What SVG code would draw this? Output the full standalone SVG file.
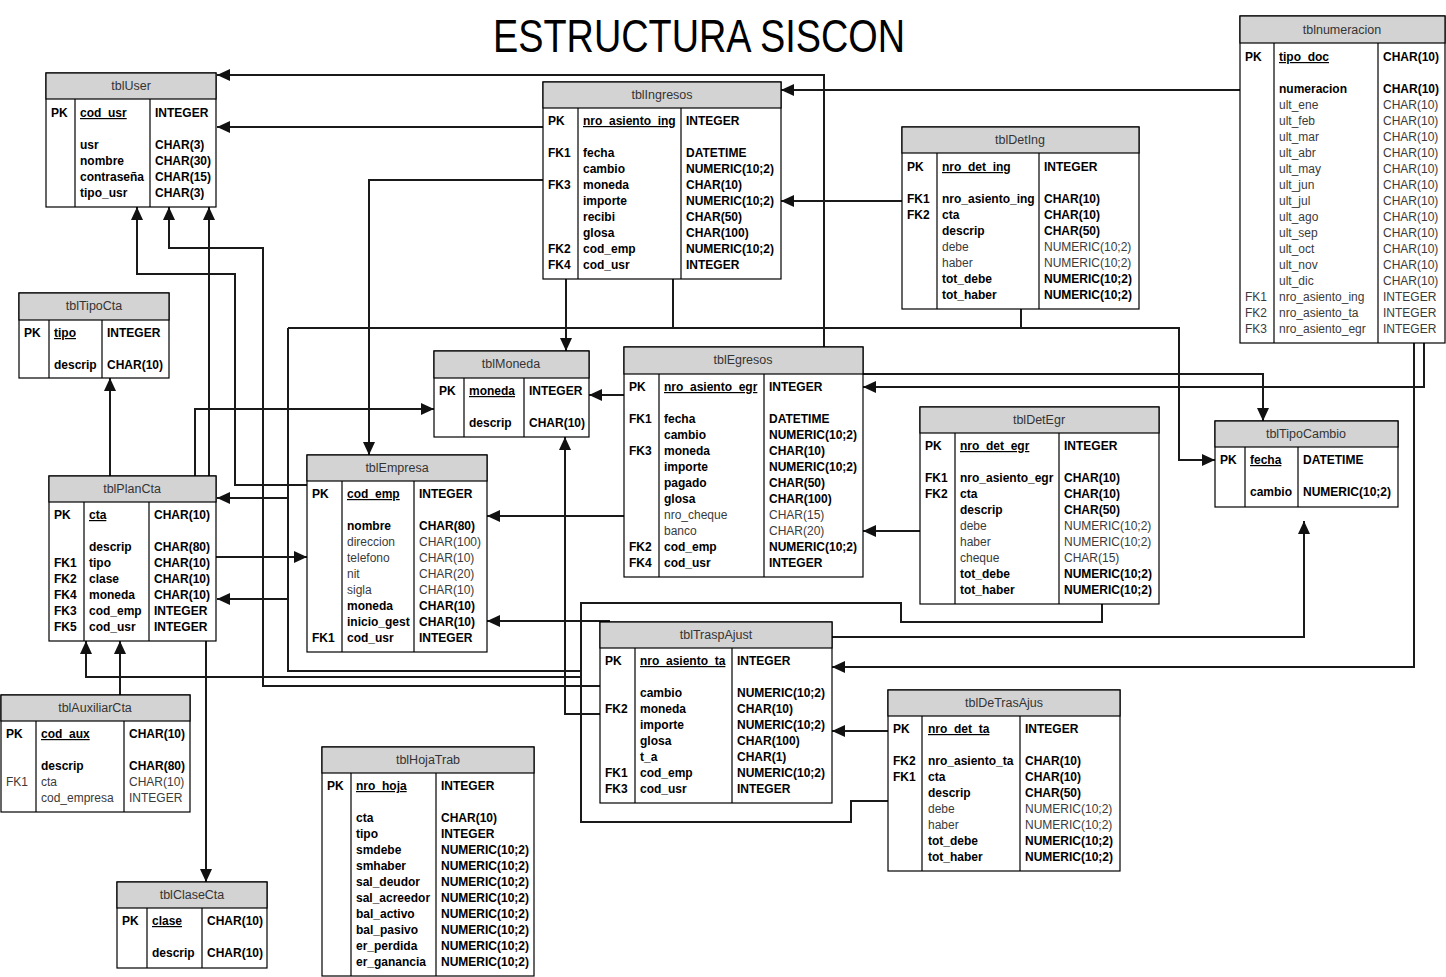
<svg xmlns="http://www.w3.org/2000/svg" width="1446" height="977" viewBox="0 0 1446 977">
<style>
.bg{fill:#fff}
.bx{fill:#fff;stroke:#000;stroke-width:1.2}
.hd{fill:#d3d3d3;stroke:#000;stroke-width:1.2}
.dv{stroke:#000;stroke-width:1.2}
.h{font-family:"Liberation Sans",Arial,sans-serif;font-size:12.5px;fill:#333;text-anchor:middle}
.b{font-family:"Liberation Sans",Arial,sans-serif;font-size:12px;font-weight:bold;fill:#000}
.r{font-family:"Liberation Sans",Arial,sans-serif;font-size:12px;fill:#3a3a3a}
.u{text-decoration:underline}
.c{fill:none;stroke:#1a1a1a;stroke-width:2}
.a{marker-end:url(#ah)}
.ttl{font-family:"Liberation Sans",Arial,sans-serif;font-size:46px;fill:#000;text-anchor:middle}
</style>
<defs>
<marker id="ah" viewBox="0 0 13 12" refX="13" refY="6" markerWidth="13" markerHeight="12" markerUnits="userSpaceOnUse" orient="auto"><path d="M0,0 L13,6 L0,12 z" fill="#111"/></marker>
</defs>
<rect class="bg" x="0" y="0" width="1446" height="977"/>
<text class="ttl" x="699" y="52" textLength="412" lengthAdjust="spacingAndGlyphs">ESTRUCTURA SISCON</text>

<g id="connectors">
<path class="c a" d="M824,347 V75 H217"/>
<path class="c a" d="M543,127 H217"/>
<path class="c a" d="M1240,90 H781"/>
<path class="c a" d="M902,201 H781"/>
<path class="c a" d="M543,180 H369 V455"/>
<path class="c a" d="M566,279 V351"/>
<path class="c" d="M673,279 V328"/>
<path class="c" d="M1021,309 V328"/>
<path class="c a" d="M288,328 H1179 V460 H1215"/>
<path class="c" d="M288,328 V671 H581"/>
<path class="c a" d="M288,498 H217"/>
<path class="c a" d="M288,599 H217"/>
<path class="c" d="M1102,604 V622 H901 V603 H581 V822 H851 V801 H888"/>
<path class="c a" d="M581,677 H86 V641"/>
<path class="c a" d="M120,695 V641"/>
<path class="c a" d="M206,641 V882"/>
<path class="c a" d="M110,476 V378"/>
<path class="c a" d="M209,476 V207"/>
<path class="c a" d="M195,476 V409 H434"/>
<path class="c a" d="M307,485 H235 V274 H137 V207"/>
<path class="c a" d="M600,686 H263 V248 H169 V207"/>
<path class="c a" d="M216,557 H307"/>
<path class="c a" d="M624,516 H487"/>
<path class="c a" d="M624,395 H589"/>
<path class="c a" d="M600,714 H565 V437"/>
<path class="c a" d="M610,621 H487"/>
<path class="c a" d="M863,374 H1263 V421"/>
<path class="c a" d="M1424,343 V387 H863"/>
<path class="c a" d="M1414,343 V667 H832"/>
<path class="c a" d="M920,531 H863"/>
<path class="c a" d="M832,637 H1304 V521"/>
<path class="c a" d="M888,731 H832"/>
</g>

<g id="tblUser">
<rect class="bx" x="46" y="73" width="170" height="134"/>
<rect class="hd" x="46" y="73" width="170" height="26"/>
<line class="dv" x1="75" y1="99" x2="75" y2="207"/><line class="dv" x1="150" y1="99" x2="150" y2="207"/>
<text class="h" x="131" y="90">tblUser</text>
<text class="b" x="51" y="117">PK</text><text class="b u" x="80" y="117">cod_usr</text><text class="b" x="155" y="117">INTEGER</text>
<text class="b" x="80" y="149">usr</text><text class="b" x="155" y="149">CHAR(3)</text>
<text class="b" x="80" y="165">nombre</text><text class="b" x="155" y="165">CHAR(30)</text>
<text class="b" x="80" y="181">contraseña</text><text class="b" x="155" y="181">CHAR(15)</text>
<text class="b" x="80" y="197">tipo_usr</text><text class="b" x="155" y="197">CHAR(3)</text>
</g>

<g id="tblTipoCta">
<rect class="bx" x="19" y="293" width="150" height="85"/>
<rect class="hd" x="19" y="293" width="150" height="27"/>
<line class="dv" x1="49" y1="320" x2="49" y2="378"/><line class="dv" x1="102" y1="320" x2="102" y2="378"/>
<text class="h" x="94" y="310">tblTipoCta</text>
<text class="b" x="24" y="337">PK</text><text class="b u" x="54" y="337">tipo</text><text class="b" x="107" y="337">INTEGER</text>
<text class="b" x="54" y="369">descrip</text><text class="b" x="107" y="369">CHAR(10)</text>
</g>

<g id="tblIngresos">
<rect class="bx" x="543" y="82" width="238" height="197"/>
<rect class="hd" x="543" y="82" width="238" height="26"/>
<line class="dv" x1="578" y1="108" x2="578" y2="279"/><line class="dv" x1="681" y1="108" x2="681" y2="279"/>
<text class="h" x="662" y="99">tblIngresos</text>
<text class="b" x="548" y="125">PK</text><text class="b u" x="583" y="125">nro_asiento_ing</text><text class="b" x="686" y="125">INTEGER</text>
<text class="b" x="548" y="157">FK1</text><text class="b" x="583" y="157">fecha</text><text class="b" x="686" y="157">DATETIME</text>
<text class="b" x="583" y="173">cambio</text><text class="b" x="686" y="173">NUMERIC(10;2)</text>
<text class="b" x="548" y="189">FK3</text><text class="b" x="583" y="189">moneda</text><text class="b" x="686" y="189">CHAR(10)</text>
<text class="b" x="583" y="205">importe</text><text class="b" x="686" y="205">NUMERIC(10;2)</text>
<text class="b" x="583" y="221">recibi</text><text class="b" x="686" y="221">CHAR(50)</text>
<text class="b" x="583" y="237">glosa</text><text class="b" x="686" y="237">CHAR(100)</text>
<text class="b" x="548" y="253">FK2</text><text class="b" x="583" y="253">cod_emp</text><text class="b" x="686" y="253">NUMERIC(10;2)</text>
<text class="b" x="548" y="269">FK4</text><text class="b" x="583" y="269">cod_usr</text><text class="b" x="686" y="269">INTEGER</text>
</g>

<g id="tblDetIng">
<rect class="bx" x="902" y="127" width="237" height="182"/>
<rect class="hd" x="902" y="127" width="237" height="26"/>
<line class="dv" x1="937" y1="153" x2="937" y2="309"/><line class="dv" x1="1039" y1="153" x2="1039" y2="309"/>
<text class="h" x="1020" y="144">tblDetIng</text>
<text class="b" x="907" y="171">PK</text><text class="b u" x="942" y="171">nro_det_ing</text><text class="b" x="1044" y="171">INTEGER</text>
<text class="b" x="907" y="203">FK1</text><text class="b" x="942" y="203">nro_asiento_ing</text><text class="b" x="1044" y="203">CHAR(10)</text>
<text class="b" x="907" y="219">FK2</text><text class="b" x="942" y="219">cta</text><text class="b" x="1044" y="219">CHAR(10)</text>
<text class="b" x="942" y="235">descrip</text><text class="b" x="1044" y="235">CHAR(50)</text>
<text class="r" x="942" y="251">debe</text><text class="r" x="1044" y="251">NUMERIC(10;2)</text>
<text class="r" x="942" y="267">haber</text><text class="r" x="1044" y="267">NUMERIC(10;2)</text>
<text class="b" x="942" y="283">tot_debe</text><text class="b" x="1044" y="283">NUMERIC(10;2)</text>
<text class="b" x="942" y="299">tot_haber</text><text class="b" x="1044" y="299">NUMERIC(10;2)</text>
</g>

<g id="tblnumeracion">
<rect class="bx" x="1240" y="16" width="205" height="327"/>
<rect class="hd" x="1240" y="16" width="205" height="27"/>
<line class="dv" x1="1274" y1="43" x2="1274" y2="343"/><line class="dv" x1="1378" y1="43" x2="1378" y2="343"/>
<text class="h" x="1342" y="34">tblnumeracion</text>
<text class="b" x="1245" y="61">PK</text><text class="b u" x="1279" y="61">tipo_doc</text><text class="b" x="1383" y="61">CHAR(10)</text>
<text class="b" x="1279" y="93">numeracion</text><text class="b" x="1383" y="93">CHAR(10)</text>
<text class="r" x="1279" y="109">ult_ene</text><text class="r" x="1383" y="109">CHAR(10)</text>
<text class="r" x="1279" y="125">ult_feb</text><text class="r" x="1383" y="125">CHAR(10)</text>
<text class="r" x="1279" y="141">ult_mar</text><text class="r" x="1383" y="141">CHAR(10)</text>
<text class="r" x="1279" y="157">ult_abr</text><text class="r" x="1383" y="157">CHAR(10)</text>
<text class="r" x="1279" y="173">ult_may</text><text class="r" x="1383" y="173">CHAR(10)</text>
<text class="r" x="1279" y="189">ult_jun</text><text class="r" x="1383" y="189">CHAR(10)</text>
<text class="r" x="1279" y="205">ult_jul</text><text class="r" x="1383" y="205">CHAR(10)</text>
<text class="r" x="1279" y="221">ult_ago</text><text class="r" x="1383" y="221">CHAR(10)</text>
<text class="r" x="1279" y="237">ult_sep</text><text class="r" x="1383" y="237">CHAR(10)</text>
<text class="r" x="1279" y="253">ult_oct</text><text class="r" x="1383" y="253">CHAR(10)</text>
<text class="r" x="1279" y="269">ult_nov</text><text class="r" x="1383" y="269">CHAR(10)</text>
<text class="r" x="1279" y="285">ult_dic</text><text class="r" x="1383" y="285">CHAR(10)</text>
<text class="r" x="1245" y="301">FK1</text><text class="r" x="1279" y="301">nro_asiento_ing</text><text class="r" x="1383" y="301">INTEGER</text>
<text class="r" x="1245" y="317">FK2</text><text class="r" x="1279" y="317">nro_asiento_ta</text><text class="r" x="1383" y="317">INTEGER</text>
<text class="r" x="1245" y="333">FK3</text><text class="r" x="1279" y="333">nro_asiento_egr</text><text class="r" x="1383" y="333">INTEGER</text>
</g>

<g id="tblMoneda">
<rect class="bx" x="434" y="351" width="155" height="86"/>
<rect class="hd" x="434" y="351" width="155" height="27"/>
<line class="dv" x1="464" y1="378" x2="464" y2="437"/><line class="dv" x1="524" y1="378" x2="524" y2="437"/>
<text class="h" x="511" y="368">tblMoneda</text>
<text class="b" x="439" y="395">PK</text><text class="b u" x="469" y="395">moneda</text><text class="b" x="529" y="395">INTEGER</text>
<text class="b" x="469" y="427">descrip</text><text class="b" x="529" y="427">CHAR(10)</text>
</g>

<g id="tblEgresos">
<rect class="bx" x="624" y="347" width="239" height="230"/>
<rect class="hd" x="624" y="347" width="239" height="27"/>
<line class="dv" x1="659" y1="374" x2="659" y2="577"/><line class="dv" x1="764" y1="374" x2="764" y2="577"/>
<text class="h" x="743" y="364">tblEgresos</text>
<text class="b" x="629" y="391">PK</text><text class="b u" x="664" y="391">nro_asiento_egr</text><text class="b" x="769" y="391">INTEGER</text>
<text class="b" x="629" y="423">FK1</text><text class="b" x="664" y="423">fecha</text><text class="b" x="769" y="423">DATETIME</text>
<text class="b" x="664" y="439">cambio</text><text class="b" x="769" y="439">NUMERIC(10;2)</text>
<text class="b" x="629" y="455">FK3</text><text class="b" x="664" y="455">moneda</text><text class="b" x="769" y="455">CHAR(10)</text>
<text class="b" x="664" y="471">importe</text><text class="b" x="769" y="471">NUMERIC(10;2)</text>
<text class="b" x="664" y="487">pagado</text><text class="b" x="769" y="487">CHAR(50)</text>
<text class="b" x="664" y="503">glosa</text><text class="b" x="769" y="503">CHAR(100)</text>
<text class="r" x="664" y="519">nro_cheque</text><text class="r" x="769" y="519">CHAR(15)</text>
<text class="r" x="664" y="535">banco</text><text class="r" x="769" y="535">CHAR(20)</text>
<text class="b" x="629" y="551">FK2</text><text class="b" x="664" y="551">cod_emp</text><text class="b" x="769" y="551">NUMERIC(10;2)</text>
<text class="b" x="629" y="567">FK4</text><text class="b" x="664" y="567">cod_usr</text><text class="b" x="769" y="567">INTEGER</text>
</g>

<g id="tblDetEgr">
<rect class="bx" x="920" y="407" width="239" height="197"/>
<rect class="hd" x="920" y="407" width="239" height="26"/>
<line class="dv" x1="955" y1="433" x2="955" y2="604"/><line class="dv" x1="1059" y1="433" x2="1059" y2="604"/>
<text class="h" x="1039" y="424">tblDetEgr</text>
<text class="b" x="925" y="450">PK</text><text class="b u" x="960" y="450">nro_det_egr</text><text class="b" x="1064" y="450">INTEGER</text>
<text class="b" x="925" y="482">FK1</text><text class="b" x="960" y="482">nro_asiento_egr</text><text class="b" x="1064" y="482">CHAR(10)</text>
<text class="b" x="925" y="498">FK2</text><text class="b" x="960" y="498">cta</text><text class="b" x="1064" y="498">CHAR(10)</text>
<text class="b" x="960" y="514">descrip</text><text class="b" x="1064" y="514">CHAR(50)</text>
<text class="r" x="960" y="530">debe</text><text class="r" x="1064" y="530">NUMERIC(10;2)</text>
<text class="r" x="960" y="546">haber</text><text class="r" x="1064" y="546">NUMERIC(10;2)</text>
<text class="r" x="960" y="562">cheque</text><text class="r" x="1064" y="562">CHAR(15)</text>
<text class="b" x="960" y="578">tot_debe</text><text class="b" x="1064" y="578">NUMERIC(10;2)</text>
<text class="b" x="960" y="594">tot_haber</text><text class="b" x="1064" y="594">NUMERIC(10;2)</text>
</g>

<g id="tblTipoCambio">
<rect class="bx" x="1215" y="421" width="183" height="86"/>
<rect class="hd" x="1215" y="421" width="183" height="26"/>
<line class="dv" x1="1245" y1="447" x2="1245" y2="507"/><line class="dv" x1="1298" y1="447" x2="1298" y2="507"/>
<text class="h" x="1306" y="438">tblTipoCambio</text>
<text class="b" x="1220" y="464">PK</text><text class="b u" x="1250" y="464">fecha</text><text class="b" x="1303" y="464">DATETIME</text>
<text class="b" x="1250" y="496">cambio</text><text class="b" x="1303" y="496">NUMERIC(10;2)</text>
</g>

<g id="tblEmpresa">
<rect class="bx" x="307" y="455" width="180" height="197"/>
<rect class="hd" x="307" y="455" width="180" height="26"/>
<line class="dv" x1="342" y1="481" x2="342" y2="652"/><line class="dv" x1="414" y1="481" x2="414" y2="652"/>
<text class="h" x="397" y="472">tblEmpresa</text>
<text class="b" x="312" y="498">PK</text><text class="b u" x="347" y="498">cod_emp</text><text class="b" x="419" y="498">INTEGER</text>
<text class="b" x="347" y="530">nombre</text><text class="b" x="419" y="530">CHAR(80)</text>
<text class="r" x="347" y="546">direccion</text><text class="r" x="419" y="546">CHAR(100)</text>
<text class="r" x="347" y="562">telefono</text><text class="r" x="419" y="562">CHAR(10)</text>
<text class="r" x="347" y="578">nit</text><text class="r" x="419" y="578">CHAR(20)</text>
<text class="r" x="347" y="594">sigla</text><text class="r" x="419" y="594">CHAR(10)</text>
<text class="b" x="347" y="610">moneda</text><text class="b" x="419" y="610">CHAR(10)</text>
<text class="b" x="347" y="626">inicio_gest</text><text class="b" x="419" y="626">CHAR(10)</text>
<text class="b" x="312" y="642">FK1</text><text class="b" x="347" y="642">cod_usr</text><text class="b" x="419" y="642">INTEGER</text>
</g>

<g id="tblPlanCta">
<rect class="bx" x="49" y="476" width="167" height="165"/>
<rect class="hd" x="49" y="476" width="167" height="26"/>
<line class="dv" x1="84" y1="502" x2="84" y2="641"/><line class="dv" x1="149" y1="502" x2="149" y2="641"/>
<text class="h" x="132" y="493">tblPlanCta</text>
<text class="b" x="54" y="519">PK</text><text class="b u" x="89" y="519">cta</text><text class="b" x="154" y="519">CHAR(10)</text>
<text class="b" x="89" y="551">descrip</text><text class="b" x="154" y="551">CHAR(80)</text>
<text class="b" x="54" y="567">FK1</text><text class="b" x="89" y="567">tipo</text><text class="b" x="154" y="567">CHAR(10)</text>
<text class="b" x="54" y="583">FK2</text><text class="b" x="89" y="583">clase</text><text class="b" x="154" y="583">CHAR(10)</text>
<text class="b" x="54" y="599">FK4</text><text class="b" x="89" y="599">moneda</text><text class="b" x="154" y="599">CHAR(10)</text>
<text class="b" x="54" y="615">FK3</text><text class="b" x="89" y="615">cod_emp</text><text class="b" x="154" y="615">INTEGER</text>
<text class="b" x="54" y="631">FK5</text><text class="b" x="89" y="631">cod_usr</text><text class="b" x="154" y="631">INTEGER</text>
</g>

<g id="tblTraspAjust">
<rect class="bx" x="600" y="622" width="232" height="181"/>
<rect class="hd" x="600" y="622" width="232" height="26"/>
<line class="dv" x1="635" y1="648" x2="635" y2="803"/><line class="dv" x1="732" y1="648" x2="732" y2="803"/>
<text class="h" x="716" y="639">tblTraspAjust</text>
<text class="b" x="605" y="665">PK</text><text class="b u" x="640" y="665">nro_asiento_ta</text><text class="b" x="737" y="665">INTEGER</text>
<text class="b" x="640" y="697">cambio</text><text class="b" x="737" y="697">NUMERIC(10;2)</text>
<text class="b" x="605" y="713">FK2</text><text class="b" x="640" y="713">moneda</text><text class="b" x="737" y="713">CHAR(10)</text>
<text class="b" x="640" y="729">importe</text><text class="b" x="737" y="729">NUMERIC(10;2)</text>
<text class="b" x="640" y="745">glosa</text><text class="b" x="737" y="745">CHAR(100)</text>
<text class="b" x="640" y="761">t_a</text><text class="b" x="737" y="761">CHAR(1)</text>
<text class="b" x="605" y="777">FK1</text><text class="b" x="640" y="777">cod_emp</text><text class="b" x="737" y="777">NUMERIC(10;2)</text>
<text class="b" x="605" y="793">FK3</text><text class="b" x="640" y="793">cod_usr</text><text class="b" x="737" y="793">INTEGER</text>
</g>

<g id="tblDeTrasAjus">
<rect class="bx" x="888" y="690" width="232" height="181"/>
<rect class="hd" x="888" y="690" width="232" height="26"/>
<line class="dv" x1="922" y1="716" x2="922" y2="871"/><line class="dv" x1="1020" y1="716" x2="1020" y2="871"/>
<text class="h" x="1004" y="707">tblDeTrasAjus</text>
<text class="b" x="893" y="733">PK</text><text class="b u" x="928" y="733">nro_det_ta</text><text class="b" x="1025" y="733">INTEGER</text>
<text class="b" x="893" y="765">FK2</text><text class="b" x="928" y="765">nro_asiento_ta</text><text class="b" x="1025" y="765">CHAR(10)</text>
<text class="b" x="893" y="781">FK1</text><text class="b" x="928" y="781">cta</text><text class="b" x="1025" y="781">CHAR(10)</text>
<text class="b" x="928" y="797">descrip</text><text class="b" x="1025" y="797">CHAR(50)</text>
<text class="r" x="928" y="813">debe</text><text class="r" x="1025" y="813">NUMERIC(10;2)</text>
<text class="r" x="928" y="829">haber</text><text class="r" x="1025" y="829">NUMERIC(10;2)</text>
<text class="b" x="928" y="845">tot_debe</text><text class="b" x="1025" y="845">NUMERIC(10;2)</text>
<text class="b" x="928" y="861">tot_haber</text><text class="b" x="1025" y="861">NUMERIC(10;2)</text>
</g>

<g id="tblAuxiliarCta">
<rect class="bx" x="1" y="695" width="189" height="117"/>
<rect class="hd" x="1" y="695" width="189" height="26"/>
<line class="dv" x1="36" y1="721" x2="36" y2="812"/><line class="dv" x1="124" y1="721" x2="124" y2="812"/>
<text class="h" x="95" y="712">tblAuxiliarCta</text>
<text class="b" x="6" y="738">PK</text><text class="b u" x="41" y="738">cod_aux</text><text class="b" x="129" y="738">CHAR(10)</text>
<text class="b" x="41" y="770">descrip</text><text class="b" x="129" y="770">CHAR(80)</text>
<text class="r" x="6" y="786">FK1</text><text class="r" x="41" y="786">cta</text><text class="r" x="129" y="786">CHAR(10)</text>
<text class="r" x="41" y="802">cod_empresa</text><text class="r" x="129" y="802">INTEGER</text>
</g>

<g id="tblClaseCta">
<rect class="bx" x="117" y="882" width="150" height="86"/>
<rect class="hd" x="117" y="882" width="150" height="26"/>
<line class="dv" x1="147" y1="908" x2="147" y2="968"/><line class="dv" x1="202" y1="908" x2="202" y2="968"/>
<text class="h" x="192" y="899">tblClaseCta</text>
<text class="b" x="122" y="925">PK</text><text class="b u" x="152" y="925">clase</text><text class="b" x="207" y="925">CHAR(10)</text>
<text class="b" x="152" y="957">descrip</text><text class="b" x="207" y="957">CHAR(10)</text>
</g>

<g id="tblHojaTrab">
<rect class="bx" x="322" y="747" width="212" height="229"/>
<rect class="hd" x="322" y="747" width="212" height="26"/>
<line class="dv" x1="351" y1="773" x2="351" y2="976"/><line class="dv" x1="436" y1="773" x2="436" y2="976"/>
<text class="h" x="428" y="764">tblHojaTrab</text>
<text class="b" x="327" y="790">PK</text><text class="b u" x="356" y="790">nro_hoja</text><text class="b" x="441" y="790">INTEGER</text>
<text class="b" x="356" y="822">cta</text><text class="b" x="441" y="822">CHAR(10)</text>
<text class="b" x="356" y="838">tipo</text><text class="b" x="441" y="838">INTEGER</text>
<text class="b" x="356" y="854">smdebe</text><text class="b" x="441" y="854">NUMERIC(10;2)</text>
<text class="b" x="356" y="870">smhaber</text><text class="b" x="441" y="870">NUMERIC(10;2)</text>
<text class="b" x="356" y="886">sal_deudor</text><text class="b" x="441" y="886">NUMERIC(10;2)</text>
<text class="b" x="356" y="902">sal_acreedor</text><text class="b" x="441" y="902">NUMERIC(10;2)</text>
<text class="b" x="356" y="918">bal_activo</text><text class="b" x="441" y="918">NUMERIC(10;2)</text>
<text class="b" x="356" y="934">bal_pasivo</text><text class="b" x="441" y="934">NUMERIC(10;2)</text>
<text class="b" x="356" y="950">er_perdida</text><text class="b" x="441" y="950">NUMERIC(10;2)</text>
<text class="b" x="356" y="966">er_ganancia</text><text class="b" x="441" y="966">NUMERIC(10;2)</text>
</g>
</svg>
